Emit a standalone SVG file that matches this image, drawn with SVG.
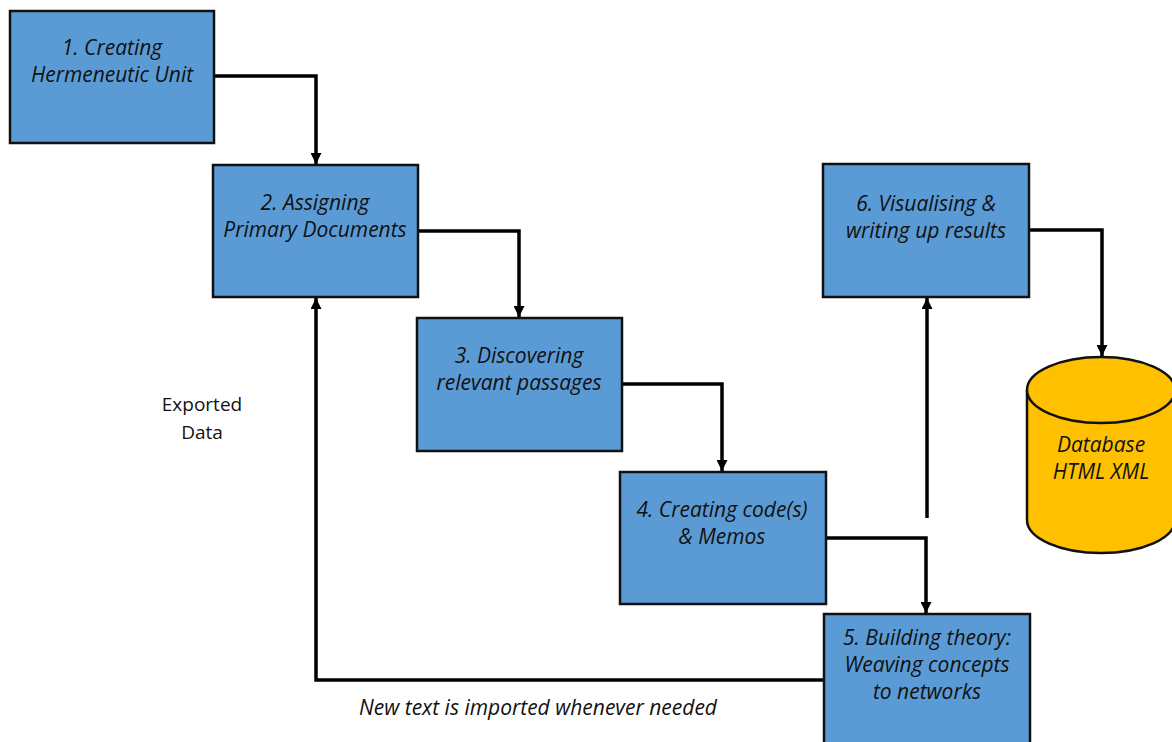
<svg xmlns="http://www.w3.org/2000/svg" width="1172" height="742" viewBox="0 0 1172 742">
  <style>
    .box { fill: #5b9bd5; stroke: #111; stroke-width: 2.5; }
    .db { fill: #ffc000; stroke: #111; stroke-width: 2.5; }
    .lbl { font-family: "Open Sans", "Noto Sans", sans-serif; font-style: italic; font-size: 21px; fill: #111; text-anchor: middle; }
    .plain { font-family: "Open Sans", "Noto Sans", sans-serif; font-size: 19px; fill: #111; text-anchor: middle; }
    .wire { fill: none; stroke: #000; stroke-width: 3.5; }
  </style>
  <defs>
    <marker id="arrow" viewBox="0 0 10 10" refX="10" refY="5" markerWidth="11" markerHeight="11" markerUnits="userSpaceOnUse" orient="auto">
      <path d="M0,0 L10,5 L0,10 Z" fill="#000"/>
    </marker>
  </defs>

  <rect width="1172" height="742" fill="#fff"/>

  <!-- connectors -->
  <g id="connectors">
    <path class="wire" d="M214,76 H316 V164" marker-end="url(#arrow)"/>
    <path class="wire" d="M418,231 H519 V317" marker-end="url(#arrow)"/>
    <path class="wire" d="M622,384 H722 V471" marker-end="url(#arrow)"/>
    <path class="wire" d="M826,538 H926 V613" marker-end="url(#arrow)"/>
    <path class="wire" d="M927,518 V298" marker-end="url(#arrow)"/>
    <path class="wire" d="M1029,230 H1102 V356" marker-end="url(#arrow)"/>
    <path class="wire" d="M824,680 H316 V298" marker-end="url(#arrow)"/>
  </g>

  <g id="n1">
    <rect class="box" x="10" y="11" width="204" height="132"/>
    <text class="lbl" x="112" y="55">1. Creating</text>
    <text class="lbl" x="112" y="82">Hermeneutic Unit</text>
  </g>
  <g id="n2">
    <rect class="box" x="213" y="165" width="205" height="132"/>
    <text class="lbl" x="315" y="210">2. Assigning</text>
    <text class="lbl" x="315" y="237">Primary Documents</text>
  </g>
  <g id="n3">
    <rect class="box" x="417" y="318" width="205" height="133"/>
    <text class="lbl" x="519" y="363">3. Discovering</text>
    <text class="lbl" x="519" y="390">relevant passages</text>
  </g>
  <g id="n4">
    <rect class="box" x="620" y="472" width="206" height="132"/>
    <text class="lbl" x="722" y="517">4. Creating code(s)</text>
    <text class="lbl" x="722" y="544">&amp; Memos</text>
  </g>
  <g id="n5">
    <rect class="box" x="824" y="614" width="206" height="140"/>
    <text class="lbl" x="927" y="645">5. Building theory:</text>
    <text class="lbl" x="927" y="672">Weaving concepts</text>
    <text class="lbl" x="927" y="699">to networks</text>
  </g>
  <g id="n6">
    <rect class="box" x="823" y="164" width="206" height="133"/>
    <text class="lbl" x="926" y="211">6. Visualising &amp;</text>
    <text class="lbl" x="926" y="238">writing up results</text>
  </g>
  <g id="db">
    <path class="db" d="M1027,390 V520 A74,33 0 0 0 1175,520 V390 A74,33 0 0 0 1027,390 Z"/>
    <path class="db" d="M1027,390 A74,33 0 0 0 1175,390" fill="none"/>
    <text class="lbl" x="1101" y="452">Database</text>
    <text class="lbl" x="1101" y="479">HTML XML</text>
  </g>

  <g id="notes">
    <text class="plain" x="202" y="411">Exported</text>
    <text class="plain" x="202" y="439">Data</text>
    <text class="lbl" x="538" y="715">New text is imported whenever needed</text>
  </g>
</svg>
